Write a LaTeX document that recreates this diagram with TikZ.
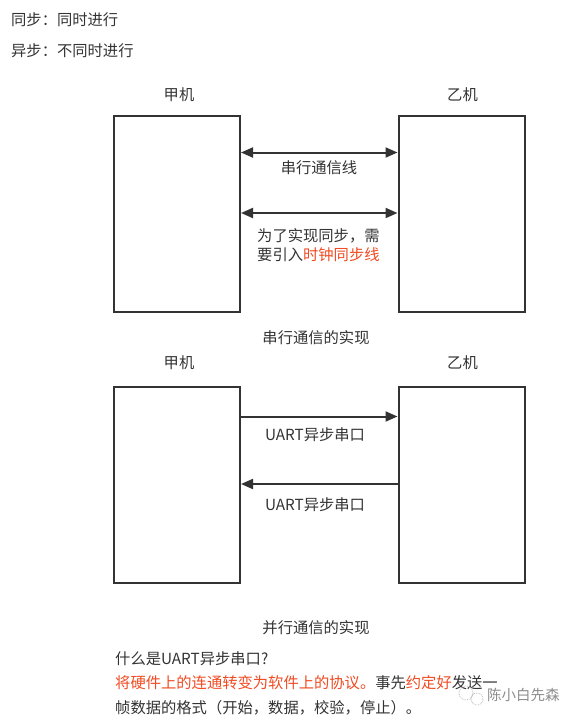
\documentclass[tikz,border=0pt]{standalone}
\usepackage{fontspec}
\setmainfont{Noto Sans CJK SC}
\usetikzlibrary{arrows.meta,positioning}
\definecolor{ink}{HTML}{333333}
\definecolor{hot}{HTML}{F04B22}
\definecolor{wmark}{HTML}{8C8C8C}

\begin{document}
\begin{tikzpicture}[x=1pt,y=-1pt,
    every node/.style={text=ink,inner sep=0pt,font=\fontsize{15.3}{18.5}\selectfont},
    machine/.style = {draw=ink,line width=2pt,minimum width=126pt,minimum height=196pt},
    wire/.style    = {draw=ink,line width=2pt,-{Triangle[length=12pt,width=10pt]}},
    duplex/.style  = {wire,{Triangle[length=12pt,width=10pt]}-{Triangle[length=12pt,width=10pt]}},
    note/.style    = {anchor=west,align=left},
  ]
  \useasboundingbox (0,0) rectangle (576,723);

  % definitions at the top
  \node[note](sync)  at (11,20) {同步：同时进行};
  \node[note](async) at (11,51) {异步：不同时进行};

  % serial block
  \node(titleA1) at (179,95)  {甲机};
  \node(titleB1) at (462.5,95) {乙机};
  \node[machine](hostA1) at (177,213.5) {};
  \node[machine](hostB1) at (461.5,213.5) {};
  \draw[duplex] (hostA1.east |- 0,152.5) -- (hostB1.west |- 0,152.5);
  \draw[duplex] (hostA1.east |- 0,213) -- (hostB1.west |- 0,213);
  \node(lineLbl) at (319,168) {串行通信线};
  \node[note](clockLbl) at (257,245) {为了实现同步，需\\要引入\textcolor{hot}{时钟同步线}};
  \node(serialCap) at (316,338) {串行通信的实现};

  % parallel block
  \node(titleA2) at (179,363)  {甲机};
  \node(titleB2) at (462.5,363) {乙机};
  \node[machine](hostA2) at (177,484.5) {};
  \node[machine](hostB2) at (461.5,484.5) {};
  \draw[wire] (hostA2.east |- 0,416.5) -- (hostB2.west |- 0,416.5);
  \draw[wire] (hostB2.west |- 0,484) -- (hostA2.east |- 0,484);
  \node(uartTx) at (315,435) {UART异步串口};
  \node(uartRx) at (315,505) {UART异步串口};
  \node(parallelCap) at (316,628) {并行通信的实现};

  % explanation underneath
  \node[note](question) at (115,659) {什么是UART异步串口?};
  \node[note](answer1)  at (115,683) {\textcolor{hot}{将硬件上的连通转变为软件上的协议。}事先\textcolor{hot}{约定好}发送一};
  \node[note](answer2)  at (115,708) {帧数据的格式（开始，数据，校验，停止）。};

  % watermark
  \draw[wmark!60,densely dotted,line width=0.8pt] (466,693) circle (7) (477,699) circle (6);
  \node[note,text=wmark,font=\fontsize{14.5}{17}\selectfont](wm) at (487,695) {陈小白先森};
\end{tikzpicture}
\end{document}
